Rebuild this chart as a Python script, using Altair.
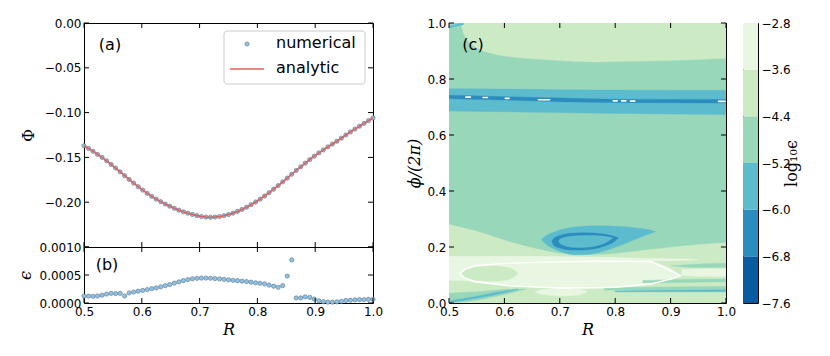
import altair as alt
import pandas as pd

FONT = "DejaVu Sans"
SERIF = "DejaVu Serif"

# ---------------- data: panels (a) and (b) ----------------
R_vals = [0.5, 0.5078, 0.5156, 0.5234, 0.5313, 0.5391, 0.5469, 0.5547, 0.5625, 0.5703,
          0.5781, 0.5859, 0.5938, 0.6016, 0.6094, 0.6172, 0.625, 0.6328, 0.6406, 0.6484,
          0.6563, 0.6641, 0.6719, 0.6797, 0.6875, 0.6953, 0.7031, 0.7109, 0.7188, 0.7266,
          0.7344, 0.7422, 0.75, 0.7578, 0.7656, 0.7734, 0.7813, 0.7891, 0.7969, 0.8047,
          0.8125, 0.8203, 0.8281, 0.8359, 0.8438, 0.8516, 0.8594, 0.8672, 0.875, 0.8828,
          0.8906, 0.8984, 0.9063, 0.9141, 0.9219, 0.9297, 0.9375, 0.9453, 0.9531, 0.9609,
          0.9688, 0.9766, 0.9844, 0.9922, 1.0]
Phi_vals = [-0.1370, -0.1400, -0.1432, -0.1466, -0.1500, -0.1538, -0.1578, -0.1619, -0.1661, -0.1704,
            -0.1746, -0.1787, -0.1827, -0.1865, -0.1901, -0.1935, -0.1966, -0.1994, -0.2021, -0.2045,
            -0.2068, -0.2089, -0.2107, -0.2123, -0.2137, -0.2150, -0.2160, -0.2166, -0.2168, -0.2166,
            -0.2160, -0.2151, -0.2138, -0.2122, -0.2103, -0.2081, -0.2056, -0.2028, -0.1998, -0.1966,
            -0.1931, -0.1894, -0.1855, -0.1815, -0.1773, -0.1731, -0.1688, -0.1646, -0.1605, -0.1564,
            -0.1524, -0.1486, -0.1450, -0.1416, -0.1383, -0.1351, -0.1320, -0.1285, -0.1250, -0.1216,
            -0.1184, -0.1152, -0.1121, -0.1090, -0.1060]
Eps_vals = [0.000125, 0.000122, 0.00012, 0.000125, 0.00014, 0.00016, 0.000172, 0.000168, 0.000172, 0.000125,
            0.00018, 0.000195, 0.00021, 0.000225, 0.00024, 0.000255, 0.00027, 0.00029, 0.00031, 0.00033,
            0.000355, 0.000378, 0.0004, 0.000418, 0.000432, 0.00044, 0.000445, 0.000445, 0.000442, 0.000436,
            0.00043, 0.000422, 0.000414, 0.000406, 0.000398, 0.00039, 0.000382, 0.000372,
            0.00036, 0.000352, 0.000342, 0.00032, 0.0003, 0.00028, 0.00031, 0.00048, 0.00077,
            0.00009, 0.00009, 0.00011, 0.0001, 0.00007, 0.00004, 0.000025, 0.000015, 0.000015,
            0.00002, 0.00003, 0.000045, 0.00005, 0.000055, 0.00006, 0.00006, 0.000065, 0.000065]

x_ticks = [0.5, 0.6, 0.7, 0.8, 0.9, 1.0]
ya_ticks = [-0.25, -0.2, -0.15, -0.1, -0.05, 0.0]
ya_labels = [-0.2, -0.15, -0.1, -0.05, 0.0]
yb_ticks = [0.0, 0.0005, 0.001]
yc_ticks = [0.0, 0.2, 0.4, 0.6, 0.8, 1.0]
legend_labels = ["numerical", "analytic"]
panel_labels = ["(a)", "(b)", "(c)"]

# ---------------- data: panel (c) contour regions ----------------
levels = [-7.6, -6.8, -6.0, -5.2, -4.4, -3.6, -2.8]
level_colors = ["#085b9e", "#2b8cbe", "#5dbbce", "#99d7ba", "#ccebc5", "#e8f6e2"]

bg_R = [0.5, 1.0]
bg_up = [1.0, 1.0]
bg_lo = [0.0, 0.0]

top_R = [0.522, 0.526, 0.535, 0.55, 0.58, 0.64, 0.70, 0.76, 0.85, 0.95, 1.0]
top_up = [1.0, 1.0, 1.0, 1.0, 1.0, 1.0, 1.0, 1.0, 1.0, 1.0, 1.0]
top_lo = [0.995, 0.965, 0.935, 0.912, 0.89, 0.874, 0.866, 0.861, 0.864, 0.870, 0.874]

corner_R = [0.5, 0.512, 0.526]
corner_up = [0.988, 0.995, 1.0]
corner_lo = [0.981, 0.988, 0.994]

band_R = [0.5, 0.6, 0.7, 0.8, 0.9, 1.0]
band_up = [0.765, 0.764, 0.762, 0.761, 0.760, 0.760]
band_lo = [0.686, 0.683, 0.680, 0.677, 0.675, 0.673]

line_R = [0.5, 0.52, 0.6, 0.7, 0.8, 0.9, 1.0]
line_up = [0.742, 0.741, 0.737, 0.732, 0.728, 0.727, 0.727]
line_lo = [0.730, 0.729, 0.725, 0.719, 0.716, 0.715, 0.714]

dot_R_lo = [0.529, 0.560, 0.600, 0.660, 0.795, 0.810, 0.826, 0.985]
dot_R_hi = [0.540, 0.571, 0.610, 0.683, 0.805, 0.821, 0.837, 1.0]
dot_phi_lo = [0.732, 0.731, 0.728, 0.723, 0.719, 0.719, 0.718, 0.717]
dot_phi_hi = [0.738, 0.737, 0.734, 0.729, 0.725, 0.725, 0.724, 0.723]

low5_R = [0.5, 0.55, 0.61, 0.67, 0.70, 0.76, 0.80, 0.86, 0.92, 1.0]
low5_up = [0.280, 0.256, 0.218, 0.188, 0.177, 0.172, 0.176, 0.190, 0.203, 0.215]
low5_lo = [0.0, 0.0, 0.0, 0.0, 0.0, 0.0, 0.0, 0.0, 0.0, 0.0]

low6_R = [0.5, 0.52, 0.55, 0.6, 0.65, 0.7, 0.75, 0.8, 0.85, 0.88, 0.9, 0.918]
low6_up = [0.166, 0.166, 0.166, 0.166, 0.166, 0.165, 0.164, 0.162, 0.158, 0.14, 0.122, 0.098]
low6_lo = [0.08, 0.08, 0.074, 0.063, 0.057, 0.053, 0.053, 0.056, 0.065, 0.074, 0.083, 0.098]

strip6_R = [0.5, 0.7, 0.85, 0.93, 0.95]
strip6_up = [0.166, 0.165, 0.160, 0.157, 0.155]
strip6_lo = [0.147, 0.150, 0.150, 0.153, 0.155]

patch5_R = [0.522, 0.53, 0.55, 0.58, 0.61, 0.625]
patch5_up = [0.105, 0.12, 0.13, 0.132, 0.125, 0.105]
patch5_lo = [0.105, 0.09, 0.08, 0.078, 0.085, 0.105]

patch6_R = [0.655, 0.67, 0.70, 0.73, 0.75]
patch6_up = [0.040, 0.048, 0.052, 0.050, 0.040]
patch6_lo = [0.040, 0.030, 0.025, 0.028, 0.040]

wedge4_R = [0.5, 0.55, 0.6, 0.64]
wedge4_up = [0.035, 0.040, 0.048, 0.050]
wedge4_lo = [0.0, 0.010, 0.030, 0.050]

streak3_R = [0.502, 0.55, 0.6, 0.625]
streak3_up = [0.008, 0.024, 0.043, 0.050]
streak3_lo = [0.002, 0.017, 0.037, 0.050]

rA_R = [0.9, 0.93, 0.96, 1.0]
rA_up = [0.133, 0.137, 0.140, 0.142]
rA_lo = [0.133, 0.128, 0.127, 0.128]

rB_R = [0.92, 0.95, 1.0]
rB_up = [0.120, 0.122, 0.122]
rB_lo = [0.100, 0.095, 0.095]

rC_R = [0.85, 0.9, 0.95, 1.0]
rC_up = [0.080, 0.083, 0.085, 0.086]
rC_lo = [0.072, 0.072, 0.074, 0.075]

rD_R = [0.78, 0.85, 0.92, 1.0]
rD_up = [0.052, 0.056, 0.058, 0.060]
rD_lo = [0.046, 0.044, 0.043, 0.043]

rE_R = [0.8, 0.88, 0.95, 1.0]
rE_up = [0.043, 0.045, 0.046, 0.047]
rE_lo = [0.040, 0.040, 0.040, 0.040]

blob_R = [0.667, 0.675, 0.69, 0.71, 0.73, 0.75, 0.77, 0.79, 0.81, 0.83, 0.85, 0.865, 0.873]
blob_up = [0.226, 0.240, 0.254, 0.266, 0.272, 0.275, 0.276, 0.275, 0.273, 0.270, 0.265, 0.260, 0.255]
blob_lo = [0.226, 0.210, 0.193, 0.178, 0.172, 0.173, 0.180, 0.192, 0.206, 0.222, 0.238, 0.249, 0.255]

ring_R = [0.686, 0.69, 0.70, 0.72, 0.74, 0.76, 0.78, 0.795, 0.806]
ring_up = [0.222, 0.232, 0.241, 0.249, 0.251, 0.250, 0.246, 0.240, 0.232]
ring_lo = [0.218, 0.205, 0.196, 0.189, 0.189, 0.193, 0.203, 0.215, 0.232]

hole_R = [0.698, 0.70, 0.71, 0.73, 0.75, 0.77, 0.785, 0.796]
hole_up = [0.222, 0.228, 0.235, 0.240, 0.241, 0.240, 0.237, 0.233]
hole_lo = [0.222, 0.213, 0.204, 0.198, 0.199, 0.206, 0.218, 0.233]

ell_R = [0.519, 0.53, 0.548, 0.58, 0.61, 0.67, 0.76, 0.80, 0.864, 0.89, 0.918,
         0.905, 0.864, 0.803, 0.76, 0.70, 0.61, 0.548, 0.528, 0.519]
ell_phi = [0.105, 0.122, 0.133, 0.139, 0.142, 0.146, 0.149, 0.149, 0.148, 0.125, 0.098,
           0.088, 0.068, 0.057, 0.054, 0.0535, 0.061, 0.076, 0.09, 0.105]

# ---------------- sizes ----------------
W_AB, H_A, H_B = 289, 224, 56
W_C, H_C = 277, 280
W_CB = 15
TL = 5

xs = alt.Scale(domain=[0.5, 1.0], nice=False, zero=False)
ysa = alt.Scale(domain=[-0.25, 0.0], nice=False, zero=False)
ysb = alt.Scale(domain=[0.0, 0.001], nice=False, zero=False)
ysc = alt.Scale(domain=[0.0, 1.0], nice=False, zero=False)


def minus_expr(fmt):
    return "replace(format(datum.value, '%s'), '-', '\u2212')" % fmt


base_ax = dict(ticks=False, domain=False, grid=False, labelPadding=3, labelFlush=False)
ax_a_x = alt.Axis(labels=False, title=None, **base_ax)
ax_a_y = alt.Axis(values=ya_labels, labelExpr=minus_expr(".2f"), title="Φ", titlePadding=8, **base_ax)
ax_b_x = alt.Axis(values=x_ticks, format=".1f", title="R", titlePadding=4, titleFontStyle="italic", **base_ax)
ax_b_y = alt.Axis(values=yb_ticks, format=".4f", title="ϵ", titlePadding=6, titleFontStyle="italic", **base_ax)
ax_c_x = alt.Axis(values=x_ticks, format=".1f", title="R", titlePadding=4, titleFontStyle="italic", **base_ax)
ax_c_y = alt.Axis(values=yc_ticks, format=".1f", title="ϕ/(2π)", titlePadding=4, titleFontStyle="italic",
                  **base_ax)


def inward_ticks(xvals, yvals, xscale, yscale, xaxis, yaxis, w, h):
    dx = pd.DataFrame({"tx": xvals})
    dy = pd.DataFrame({"ty": yvals})
    rule = dict(color="black", strokeWidth=1)
    return [
        alt.Chart(dx).mark_rule(**rule).encode(
            x=alt.X("tx:Q", scale=xscale, axis=xaxis), y=alt.value(0), y2=alt.value(TL)),
        alt.Chart(dx).mark_rule(**rule).encode(
            x=alt.X("tx:Q", scale=xscale, axis=xaxis), y=alt.value(h), y2=alt.value(h - TL)),
        alt.Chart(dy).mark_rule(**rule).encode(
            y=alt.Y("ty:Q", scale=yscale, axis=yaxis), x=alt.value(0), x2=alt.value(TL)),
        alt.Chart(dy).mark_rule(**rule).encode(
            y=alt.Y("ty:Q", scale=yscale, axis=yaxis), x=alt.value(w - TL), x2=alt.value(w)),
    ]


def label_text(txt, px, py, align="center"):
    return alt.Chart(pd.DataFrame({"t": [txt]})).mark_text(
        font=FONT, fontSize=16, align=align, baseline="middle", color="black"
    ).encode(text="t:N", x=alt.value(px), y=alt.value(py))


PT = dict(fill="#8cc3ea", stroke="#6b7f8e", strokeWidth=0.7, size=18, opacity=1)

# ---------------- panel (a) ----------------
dfa = pd.DataFrame({"R": R_vals, "phi": Phi_vals})
pts_a = alt.Chart(dfa).mark_circle(**PT).encode(
    x=alt.X("R:Q", scale=xs, axis=ax_a_x), y=alt.Y("phi:Q", scale=ysa, axis=ax_a_y))
line_a = alt.Chart(dfa).mark_line(color="#e0605a", strokeWidth=1.6).encode(
    x=alt.X("R:Q", scale=xs, axis=ax_a_x), y=alt.Y("phi:Q", scale=ysa, axis=ax_a_y))

one = pd.DataFrame({"k": [0]})
leg_box = alt.Chart(one).mark_rect(fill="white", fillOpacity=0.85, stroke="#cccccc", strokeWidth=1,
                                   cornerRadius=3).encode(
    x=alt.value(140), x2=alt.value(281), y=alt.value(8), y2=alt.value(61))
leg_pt = alt.Chart(one).mark_circle(**PT).encode(x=alt.value(163), y=alt.value(21))
leg_ln = alt.Chart(one).mark_rule(color="#e0605a", strokeWidth=1.6).encode(
    x=alt.value(146), x2=alt.value(180), y=alt.value(46))

panel_a = alt.layer(
    pts_a, line_a, *inward_ticks(x_ticks, ya_ticks, xs, ysa, ax_a_x, ax_a_y, W_AB, H_A),
    label_text(panel_labels[0], 26, 22), leg_box, leg_pt, leg_ln,
    label_text(legend_labels[0], 192, 20, "left"), label_text(legend_labels[1], 192, 45, "left"),
).properties(width=W_AB, height=H_A)

# ---------------- panel (b) ----------------
dfb = pd.DataFrame({"R": R_vals, "eps": Eps_vals})
pts_b = alt.Chart(dfb).mark_circle(**PT).encode(
    x=alt.X("R:Q", scale=xs, axis=ax_b_x), y=alt.Y("eps:Q", scale=ysb, axis=ax_b_y))
panel_b = alt.layer(
    pts_b, *inward_ticks(x_ticks, yb_ticks, xs, ysb, ax_b_x, ax_b_y, W_AB, H_B),
    label_text(panel_labels[1], 23, 18)
).properties(width=W_AB, height=H_B)

# ---------------- panel (c) ----------------
regions = [
    (bg_R, bg_up, bg_lo, 3), (top_R, top_up, top_lo, 4), (corner_R, corner_up, corner_lo, 2),
    (band_R, band_up, band_lo, 2), (line_R, line_up, line_lo, 1),
    (low5_R, low5_up, low5_lo, 4), (low6_R, low6_up, low6_lo, 5), (strip6_R, strip6_up, strip6_lo, 5),
    (patch5_R, patch5_up, patch5_lo, 4), (patch6_R, patch6_up, patch6_lo, 5),
    (wedge4_R, wedge4_up, wedge4_lo, 3), (streak3_R, streak3_up, streak3_lo, 2),
    (rA_R, rA_up, rA_lo, 3), (rB_R, rB_up, rB_lo, 5), (rC_R, rC_up, rC_lo, 3),
    (rD_R, rD_up, rD_lo, 3), (rE_R, rE_up, rE_lo, 2),
    (blob_R, blob_up, blob_lo, 2), (ring_R, ring_up, ring_lo, 1), (hole_R, hole_up, hole_lo, 2),
]
c_layers = []
for i, (rr, up, lo, lev) in enumerate(regions):
    d = pd.DataFrame({"R": rr, "up": up, "lo": lo})
    interp = "linear" if i == 0 else "monotone"
    c_layers.append(
        alt.Chart(d).mark_area(color=level_colors[lev], opacity=1, interpolate=interp, clip=True,
                               stroke=level_colors[lev], strokeWidth=0.4)
        .encode(x=alt.X("R:Q", scale=xs, axis=ax_c_x), y=alt.Y("up:Q", scale=ysc, axis=ax_c_y),
                y2=alt.Y2("lo:Q"))
    )

dots = alt.Chart(pd.DataFrame({"a": dot_R_lo, "b": dot_R_hi, "c": dot_phi_lo, "d": dot_phi_hi})).mark_rect(
    color="white", cornerRadius=1.5, clip=True
).encode(x=alt.X("a:Q", scale=xs, axis=ax_c_x), x2="b:Q", y=alt.Y("c:Q", scale=ysc, axis=ax_c_y), y2="d:Q")

ell = alt.Chart(pd.DataFrame({"R": ell_R, "p": ell_phi, "k": list(range(len(ell_R)))})).mark_line(
    color="white", strokeWidth=1.4, clip=True
).encode(x=alt.X("R:Q", scale=xs, axis=ax_c_x), y=alt.Y("p:Q", scale=ysc, axis=ax_c_y), order="k:Q")

panel_c = alt.layer(
    *c_layers, dots, ell, *inward_ticks(x_ticks, yc_ticks, xs, ysc, ax_c_x, ax_c_y, W_C, H_C),
    label_text(panel_labels[2], 24, 22)
).properties(width=W_C, height=H_C)

# ---------------- colorbar ----------------
cb = pd.DataFrame({"lo": levels[:-1], "hi": levels[1:], "col": level_colors})
colorbar = alt.Chart(cb).mark_rect().encode(
    x=alt.value(0), x2=alt.value(W_CB),
    y=alt.Y("lo:Q", scale=alt.Scale(domain=[-7.6, -2.8], nice=False, zero=False),
            axis=alt.Axis(orient="right", values=levels, labelExpr=minus_expr(".1f"), ticks=False,
                          domain=False, grid=False, labelFlush=False,
                          title="log₁₀ϵ", titleAngle=270, labelPadding=3, titlePadding=9)),
    y2="hi:Q",
    color=alt.Color("col:N", scale=None),
).properties(width=W_CB, height=H_C)

ab = alt.vconcat(panel_a, panel_b, spacing=0, bounds="flush")
c_cb = alt.hconcat(panel_c, colorbar, spacing=17, bounds="flush")
chart = alt.hconcat(ab, c_cb, spacing=22).properties(
    padding={"left": 8, "top": 8, "right": 5, "bottom": 5}
).configure_view(stroke="black", strokeWidth=1).configure_axis(
    labelFont=FONT, labelFontSize=12, labelColor="black",
    titleFont=SERIF, titleFontSize=16, titleColor="black", titleFontWeight="normal"
)

chart.save("out.html", embed_options={"renderer": "svg", "actions": False})
